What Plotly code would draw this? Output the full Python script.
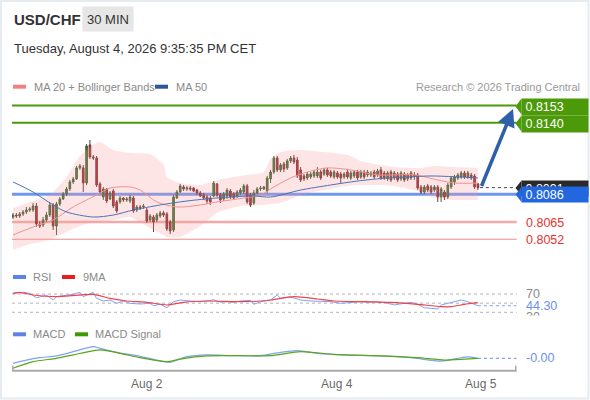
import plotly.graph_objects as go

W, H = 590, 400

# 30 min candles, one entry per bar (bar index 0..139)
OPEN = [0.80688, 0.80703, 0.80696, 0.80711, 0.80726, 0.80741, 0.80741, 0.80771, 0.80635, 0.80628, 0.80666,
        0.80703, 0.80779, 0.80620, 0.80787, 0.80824, 0.80862, 0.80900, 0.80953, 0.80976, 0.81059,
        0.81059, 0.80945, 0.81233, 0.81142,
        0.81134, 0.80938, 0.80839, 0.80900, 0.80824, 0.80885, 0.80802,
        0.80802, 0.80832, 0.80817, 0.80809, 0.80832, 0.80741, 0.80764,
        0.80764, 0.80741, 0.80666, 0.80688,
        0.80666, 0.80696, 0.80719, 0.80711, 0.80651, 0.80590, 0.80832, 0.80877, 0.80915, 0.80900,
        0.80907, 0.80907, 0.80892, 0.80870, 0.80855, 0.80839, 0.80832, 0.80847, 0.80938, 0.80855,
        0.80824, 0.80847, 0.80885, 0.80862, 0.80847, 0.80870, 0.80877, 0.80923, 0.80855, 0.80794,
        0.80870, 0.80900, 0.80900, 0.80885, 0.80976, 0.81028, 0.81134, 0.81044, 0.81089, 0.81059,
        0.81112, 0.81134, 0.81119, 0.81044, 0.80998, 0.80983, 0.80991, 0.80998, 0.80998, 0.81028,
        0.81013, 0.81044, 0.81028, 0.80991, 0.81021, 0.81013, 0.80991, 0.81028, 0.80983, 0.80998,
        0.81028, 0.80991, 0.81028, 0.81006, 0.81006, 0.81028, 0.81006, 0.81044, 0.81021, 0.80976,
        0.81028, 0.80983, 0.81013, 0.80976, 0.81013, 0.80976, 0.81021, 0.80991, 0.81006, 0.80915,
        0.80877, 0.80923, 0.80915, 0.80892, 0.80915, 0.80839, 0.80877, 0.80839, 0.80915, 0.80953,
        0.80983, 0.80991, 0.81021, 0.80991, 0.81006, 0.80998, 0.80938]
HIGH = [0.80719, 0.80719, 0.80726, 0.80741, 0.80764, 0.80764, 0.80794, 0.80794, 0.80658, 0.80688, 0.80726,
        0.80802, 0.80794, 0.80802, 0.80839, 0.80877, 0.80915, 0.80968, 0.80991, 0.81074, 0.81089,
        0.81081, 0.81240, 0.81270, 0.81157,
        0.81149, 0.80953, 0.80915, 0.80907, 0.80885, 0.80900, 0.80817,
        0.80847, 0.80839, 0.80839, 0.80855, 0.80847, 0.80779, 0.80779,
        0.80787, 0.80756, 0.80711, 0.80703,
        0.80719, 0.80734, 0.80734, 0.80726, 0.80666, 0.80855, 0.80892, 0.80938, 0.80930, 0.80923,
        0.80923, 0.80915, 0.80900, 0.80885, 0.80870, 0.80855, 0.80847, 0.80960, 0.80945, 0.80870,
        0.80877, 0.80907, 0.80900, 0.80877, 0.80892, 0.80907, 0.80938, 0.80938, 0.80870, 0.80892,
        0.80915, 0.80923, 0.80923, 0.80998, 0.81044, 0.81149, 0.81149, 0.81096, 0.81104, 0.81127,
        0.81149, 0.81157, 0.81142, 0.81066, 0.81013, 0.81028, 0.81028, 0.81044, 0.81066, 0.81044,
        0.81059, 0.81059, 0.81044, 0.81044, 0.81036, 0.81028, 0.81028, 0.81044, 0.81036, 0.81044,
        0.81044, 0.81044, 0.81044, 0.81044, 0.81036, 0.81044, 0.81051, 0.81066, 0.81036, 0.81036,
        0.81044, 0.81036, 0.81028, 0.81036, 0.81028, 0.81021, 0.81036, 0.81028, 0.81021, 0.80930,
        0.80930, 0.80938, 0.80930, 0.80930, 0.80930, 0.80915, 0.80892, 0.80945, 0.80998, 0.81006,
        0.81021, 0.81036, 0.81036, 0.81036, 0.81021, 0.81013, 0.80945]
LOW = [0.80673, 0.80681, 0.80681, 0.80696, 0.80711, 0.80726, 0.80726, 0.80613, 0.80605, 0.80613, 0.80651,
       0.80688, 0.80590, 0.80552, 0.80771, 0.80817, 0.80847, 0.80885, 0.80938, 0.80968, 0.81044,
       0.80877, 0.80930, 0.81127, 0.81119,
       0.80915, 0.80862, 0.80817, 0.80794, 0.80817, 0.80756, 0.80719,
       0.80787, 0.80802, 0.80802, 0.80794, 0.80719, 0.80726, 0.80741,
       0.80749, 0.80643, 0.80651, 0.80575,
       0.80651, 0.80681, 0.80688, 0.80583, 0.80560, 0.80575, 0.80824, 0.80870, 0.80885, 0.80885,
       0.80885, 0.80877, 0.80855, 0.80839, 0.80817, 0.80787, 0.80779, 0.80839, 0.80839, 0.80794,
       0.80809, 0.80824, 0.80824, 0.80817, 0.80832, 0.80855, 0.80862, 0.80787, 0.80764, 0.80779,
       0.80862, 0.80885, 0.80892, 0.80870, 0.80945, 0.81013, 0.81028, 0.81028, 0.81028, 0.81044,
       0.81096, 0.81089, 0.80983, 0.80953, 0.80960, 0.80968, 0.80976, 0.80983, 0.80983, 0.80968,
       0.80998, 0.80991, 0.80983, 0.80976, 0.80976, 0.80945, 0.80976, 0.80976, 0.80968, 0.80983,
       0.80968, 0.80976, 0.80976, 0.80991, 0.80991, 0.80976, 0.80991, 0.80968, 0.80968, 0.80960,
       0.80953, 0.80968, 0.80953, 0.80960, 0.80953, 0.80960, 0.80968, 0.80968, 0.80892, 0.80862,
       0.80862, 0.80877, 0.80862, 0.80877, 0.80802, 0.80802, 0.80817, 0.80824, 0.80900, 0.80930,
       0.80968, 0.80976, 0.80976, 0.80976, 0.80968, 0.80900, 0.80892]
CLOSE = [0.80703, 0.80696, 0.80711, 0.80726, 0.80741, 0.80749, 0.80771, 0.80635, 0.80620, 0.80666, 0.80703,
         0.80779, 0.80620, 0.80787, 0.80824, 0.80862, 0.80900, 0.80953, 0.80976, 0.81059, 0.81074,
         0.80945, 0.81225, 0.81142, 0.81134,
         0.80930, 0.80877, 0.80900, 0.80809, 0.80870, 0.80771, 0.80734,
         0.80832, 0.80817, 0.80824, 0.80839, 0.80734, 0.80764, 0.80756,
         0.80771, 0.80658, 0.80696, 0.80651,
         0.80703, 0.80719, 0.80703, 0.80598, 0.80583, 0.80839, 0.80877, 0.80923, 0.80900, 0.80907,
         0.80900, 0.80885, 0.80870, 0.80847, 0.80832, 0.80809, 0.80802, 0.80945, 0.80855, 0.80817,
         0.80862, 0.80892, 0.80839, 0.80832, 0.80877, 0.80892, 0.80923, 0.80802, 0.80779, 0.80870,
         0.80900, 0.80907, 0.80915, 0.80983, 0.81028, 0.81134, 0.81044, 0.81081, 0.81051, 0.81112,
         0.81134, 0.81104, 0.80998, 0.80968, 0.80976, 0.81013, 0.81013, 0.81028, 0.81028, 0.80983,
         0.81044, 0.81006, 0.80998, 0.81028, 0.80991, 0.80983, 0.81013, 0.80991, 0.81021, 0.81028,
         0.80983, 0.81028, 0.80991, 0.81028, 0.81021, 0.80991, 0.81036, 0.80983, 0.80983, 0.81021,
         0.80968, 0.81021, 0.80968, 0.81021, 0.80968, 0.81006, 0.80983, 0.81006, 0.80907, 0.80877,
         0.80915, 0.80892, 0.80877, 0.80915, 0.80839, 0.80900, 0.80839, 0.80930, 0.80983, 0.80991,
         0.81006, 0.81021, 0.80991, 0.81021, 0.80983, 0.80915, 0.80910]
BAR = list(range(len(CLOSE)))

# moving averages and bands, read at a few bars
MA50_BAR = [0, 6, 12, 16, 24, 30, 36, 44, 52, 61, 72, 77, 86, 95, 103, 112, 125, 133, 139]
MA50 = [0.80953, 0.80877, 0.80779, 0.80726, 0.80688, 0.80703, 0.80741, 0.80779, 0.80809, 0.80832,
        0.80847, 0.80839, 0.80892, 0.80930, 0.80960, 0.80983, 0.80998, 0.80991, 0.80983]
MA20_BAR = [0, 6, 12, 18, 25, 29, 35, 38, 43, 49, 56, 61, 67, 74, 78, 83, 88, 94, 101, 109, 120, 127, 132, 139]
MA20 = [0.80552, 0.80613, 0.80666, 0.80764, 0.80855, 0.80907, 0.80915, 0.80892, 0.80802, 0.80764,
        0.80779, 0.80802, 0.80824, 0.80855, 0.80915, 0.80983, 0.81028, 0.81059, 0.81044, 0.81006,
        0.81006, 0.80968, 0.80945, 0.80945]
BAND_BAR = [0, 5, 11, 16, 20, 24, 26, 30, 35, 41, 45, 46, 50, 56, 61, 68, 75, 77, 80, 86, 93, 100,
            104, 114, 122, 126, 132, 139]
BB_UP = [0.80756, 0.80802, 0.80855, 0.80991, 0.81149, 0.81233, 0.81255, 0.81195, 0.81172, 0.81164,
         0.81081, 0.80991, 0.80945, 0.80930, 0.80968, 0.80998, 0.81028, 0.81127, 0.81179, 0.81195,
         0.81179, 0.81157, 0.81112, 0.81066, 0.81059, 0.81074, 0.81066, 0.81059]
BB_LO = [0.80439, 0.80484, 0.80515, 0.80575, 0.80620, 0.80651, 0.80658, 0.80666, 0.80688, 0.80605,
         0.80552, 0.80537, 0.80537, 0.80620, 0.80719, 0.80771, 0.80779, 0.80787, 0.80794, 0.80855,
         0.80892, 0.80923, 0.80930, 0.80923, 0.80877, 0.80832, 0.80817, 0.80817]

# RSI and its 9 period average
RSI_BAR = [0, 3, 5, 7, 8, 10, 12, 13, 15, 18, 20, 21, 24, 25, 27, 29, 31, 33, 35, 38, 41, 42, 44, 46,
           48, 50, 53, 56, 58, 60, 62, 64, 66, 68, 71, 72, 74, 76, 77, 79, 80, 83, 86, 89, 92, 95, 98,
           101, 104, 106, 109, 112, 114, 117, 119, 121, 123, 125, 127, 128, 130, 132, 134, 136, 137, 139]
RSI = [71.5, 73.7, 71.5, 61.9, 63.4, 67.8, 56.9, 64.1, 66.3, 69.3, 73.7, 64.1, 73.7, 60.6, 54.7, 56.9,
       49.7, 54.7, 49.7, 48.1, 49.7, 44.4, 47.5, 40.0, 53.2, 56.9, 54.7, 53.2, 54.7, 57.5, 51.9, 53.2,
       51.9, 54.7, 56.2, 47.5, 53.2, 54.7, 56.9, 67.8, 60.6, 63.4, 56.9, 54.7, 53.2, 53.2, 49.7, 51.9,
       53.2, 51.9, 53.2, 49.7, 46.0, 49.7, 51.9, 47.5, 40.0, 38.7, 37.2, 46.0, 49.7, 51.9, 56.9, 53.2,
       49.7, 44.3]
RSI_MA_BAR = [0, 2, 6, 13, 24, 29, 34, 40, 46, 51, 58, 68, 74, 77, 84, 91, 96, 106, 113, 121, 128, 131, 135, 139]
RSI_MA = [71.5, 73.7, 67.8, 64.1, 69.3, 60.6, 54.7, 51.9, 46.0, 51.9, 54.7, 53.2, 54.7, 56.9, 64.1,
          59.1, 54.7, 53.2, 51.9, 47.5, 42.2, 42.2, 47.5, 51.0]
RSI_LEVELS = [70, 50, 30]
RSI_LAST = 44.30

# MACD
MACD_BAR = [0, 4, 8, 13, 18, 24, 26, 31, 37, 43, 47, 52, 58, 66, 74, 80, 85, 91, 99, 108, 119, 128, 133, 136, 139]
MACD = [-0.00025, -0.00009, 0.00003, 0.00012, 0.00033, 0.00058, 0.0005, 0.0003, 0.00013, -0.00009,
        -0.0002, 0.00008, 0.00017, 0.00013, 0.00013, 0.0003, 0.00038, 0.00025, 0.00017, 0.00013,
        0.00003, -0.00014, 0.0, 0.00007, 0.0]
SIGNAL_BAR = [0, 6, 13, 18, 26, 32, 38, 46, 50, 58, 68, 77, 86, 96, 110, 121, 129, 135, 139]
SIGNAL = [-0.0005, -0.00017, 0.0, 0.00017, 0.00042, 0.00025, 0.00003, -0.00017, -0.00004, 0.00012,
          0.00013, 0.00013, 0.00033, 0.0002, 0.00012, 0.00003, -0.00009, -0.00004, 0.0]

# key levels
RESISTANCE = [0.8153, 0.8140]
PIVOT = 0.8086
SUPPORT = [0.8065, 0.8052]
LAST = 0.8091
TARGET = 0.81505

TICK_BAR = [40, 97, 140]
TICK_TEXT = ["Aug 2", "Aug 4", "Aug 5"]

FONT = "Arial, Liberation Sans, sans-serif"
GREEN = "#4c9a0a"
BLUE_LINE = "#7097f0"
RSI_BLUE = "#7fa2f2"


def px(x):
    return x / W


def py(y):
    return 1 - y / H


X_DOM = [px(12), px(516.7)]
X_RANGE = [-0.3, 150.6]

fig = go.Figure()

# bollinger band fill
fig.add_trace(go.Scatter(x=BAND_BAR, y=BB_UP, mode="lines", line=dict(width=0, shape="spline", smoothing=0.6),
                         hoverinfo="skip", showlegend=False))
fig.add_trace(go.Scatter(x=BAND_BAR, y=BB_LO, mode="lines", line=dict(width=0, shape="spline", smoothing=0.6),
                         fill="tonexty", fillcolor="rgba(248,150,150,0.25)", hoverinfo="skip", showlegend=False))
fig.add_trace(go.Scatter(x=MA20_BAR, y=MA20, mode="lines",
                         line=dict(color="#f29090", width=1, shape="spline", smoothing=0.8),
                         hoverinfo="skip", showlegend=False))
fig.add_trace(go.Scatter(x=MA50_BAR, y=MA50, mode="lines",
                         line=dict(color="#4a72b8", width=1, shape="spline", smoothing=0.8),
                         hoverinfo="skip", showlegend=False))

fig.add_trace(go.Candlestick(
    x=BAR, open=OPEN, high=HIGH, low=LOW, close=CLOSE,
    increasing=dict(fillcolor="#2f8a1c", line=dict(color="#3d5a35", width=1)),
    decreasing=dict(fillcolor="#e4161b", line=dict(color="#6a3030", width=1)),
    whiskerwidth=0, hoverinfo="skip", showlegend=False,
))

# RSI panel
fig.add_trace(go.Scatter(x=RSI_BAR, y=RSI, mode="lines", xaxis="x2", yaxis="y2",
                         line=dict(color=RSI_BLUE, width=1), hoverinfo="skip", showlegend=False))
fig.add_trace(go.Scatter(x=RSI_MA_BAR, y=RSI_MA, mode="lines", xaxis="x2", yaxis="y2",
                         line=dict(color="#f0434a", width=1.2, shape="spline", smoothing=0.5),
                         hoverinfo="skip", showlegend=False))

# MACD panel
fig.add_trace(go.Scatter(x=MACD_BAR, y=MACD, mode="lines", xaxis="x3", yaxis="y3",
                         line=dict(color=RSI_BLUE, width=1.2, shape="spline", smoothing=0.6),
                         hoverinfo="skip", showlegend=False))
fig.add_trace(go.Scatter(x=SIGNAL_BAR, y=SIGNAL, mode="lines", xaxis="x3", yaxis="y3",
                         line=dict(color="#5aa51a", width=1.2, shape="spline", smoothing=0.6),
                         hoverinfo="skip", showlegend=False))

shapes = []
# level lines
for lv in RESISTANCE:
    shapes.append(dict(type="line", xref="x domain", yref="y", x0=0, x1=1, y0=lv, y1=lv,
                       line=dict(color=GREEN, width=2), layer="below"))
shapes.append(dict(type="line", xref="x domain", yref="y", x0=0, x1=1, y0=PIVOT, y1=PIVOT,
                   line=dict(color=BLUE_LINE, width=3), layer="below"))
shapes.append(dict(type="line", xref="x domain", yref="y", x0=0, x1=1, y0=SUPPORT[0], y1=SUPPORT[0],
                   line=dict(color="#f6a8a8", width=2.5), layer="below"))
shapes.append(dict(type="line", xref="x domain", yref="y", x0=0, x1=1, y0=SUPPORT[1], y1=SUPPORT[1],
                   line=dict(color="#f08a8a", width=1.2), layer="below"))
shapes.append(dict(type="line", xref="x", yref="y", x0=BAR[-1] + 0.6, x1=X_RANGE[1], y0=LAST, y1=LAST,
                   line=dict(color="#444444", width=1, dash="dot")))

# rsi guide lines
for lv in RSI_LEVELS:
    shapes.append(dict(type="line", xref="x2 domain", yref="y2", x0=0, x1=1, y0=lv, y1=lv,
                       line=dict(color="#b4b4b4", width=1, dash="dot"), layer="below"))
shapes.append(dict(type="line", xref="x2", yref="y2", x0=BAR[-1], x1=X_RANGE[1], y0=RSI_LAST, y1=RSI_LAST,
                   line=dict(color=RSI_BLUE, width=1.2, dash="dot")))
shapes.append(dict(type="line", xref="x3", yref="y3", x0=BAR[-1], x1=X_RANGE[1], y0=MACD[-1], y1=MACD[-1],
                   line=dict(color=RSI_BLUE, width=1.2, dash="dot")))

# bottom time axis
shapes.append(dict(type="line", xref="paper", yref="paper", x0=px(12), x1=px(516.5), y0=py(370.7), y1=py(370.7),
                   line=dict(color="#aaaaaa", width=2)))
for xe in (12.8, 515.8):
    shapes.append(dict(type="line", xref="paper", yref="paper", x0=px(xe), x1=px(xe), y0=py(370.7), y1=py(365.5),
                       line=dict(color="#aaaaaa", width=1.5)))

# outer frame
shapes.append(dict(type="rect", xref="paper", yref="paper", x0=px(1), x1=px(588.5), y0=py(398.5), y1=py(1),
                   line=dict(color="#e6ebef", width=2)))

# legend swatches
for x0, y0, col in [(13, 86.7, "#f28080"), (155, 86.7, "#2f559a"),
                    (13, 277, "#5b82e6"), (62, 277, "#ee1c1c"),
                    (13, 334.3, "#5b82e6"), (75, 334.3, "#3d9a00")]:
    shapes.append(dict(type="rect", xref="paper", yref="paper", x0=px(x0), x1=px(x0 + 13),
                       y0=py(y0 + 2), y1=py(y0 - 2), line=dict(width=0), fillcolor=col))


# price tags on the right: arrow tip + box
def tag_tip(yc, h, col):
    path = "M {:.5f},{:.5f} L {:.5f},{:.5f} L {:.5f},{:.5f} Z".format(
        px(515.5), py(yc), px(521.5), py(yc - h / 2), px(521.5), py(yc + h / 2))
    return dict(type="path", xref="paper", yref="paper", path=path, fillcolor=col, line=dict(width=0))


shapes.append(tag_tip(106.5, 16, GREEN))
shapes.append(tag_tip(123.5, 16, GREEN))
shapes.append(tag_tip(188, 15, "#2a2a2a"))
shapes.append(tag_tip(194.5, 15, "#2367e0"))

ann = []


def text(x, y, s, size, color, anchor="left", bold=False):
    if bold:
        s = "<b>" + s + "</b>"
    ann.append(dict(xref="paper", yref="paper", x=px(x), y=py(y), text=s, showarrow=False,
                    xanchor=anchor, yanchor="middle", font=dict(family=FONT, size=size, color=color)))


def tag(yc, h, s, col):
    ann.append(dict(xref="paper", yref="paper", x=px(521), y=py(yc), text="\u00a0" + s, showarrow=False,
                    xanchor="left", yanchor="middle", align="left", width=66, height=h, borderpad=0,
                    bgcolor=col, font=dict(family=FONT, size=12.5, color="white")))


# header
text(12, 19.5, "USD/CHF", 15, "#333333", bold=True)
ann.append(dict(xref="paper", yref="paper", x=px(82), y=py(19), text="30 MIN", showarrow=False,
                xanchor="left", yanchor="middle", width=50, height=24, borderpad=0, bgcolor="#e6e6e6",
                font=dict(family=FONT, size=13, color="#333333")))
text(12, 48, "Tuesday, August 4, 2026 9:35:35 PM CET", 13, "#333333")
text(32, 86.5, "MA 20 + Bollinger Bands", 11, "#8a8a8a")
text(174, 86.5, "MA 50", 11, "#8a8a8a")
text(582, 86.5, "Research \u00a9 2026 Trading Central", 11, "#9a9a9a", anchor="right")

# level tags
tag(106.5, 16, "{:.4f}".format(RESISTANCE[0]), GREEN)
tag(123.5, 16, "{:.4f}".format(RESISTANCE[1]), GREEN)
tag(188, 15, "{:.4f}".format(LAST), "#2a2a2a")
tag(194.5, 15, "{:.4f}".format(PIVOT), "#2367e0")
text(524, 222.7, "{:.4f}".format(SUPPORT[0]), 12.5, "#e8322e")
text(524, 239.5, "{:.4f}".format(SUPPORT[1]), 12.5, "#e8322e")

# forecast arrow
ann.append(dict(xref="x", yref="y", axref="x", ayref="y", x=149.5, y=TARGET, ax=139.9, ay=LAST + 0.00001,
                text="", showarrow=True, arrowhead=2, arrowsize=1, arrowwidth=3.5, arrowcolor="#2f5fa8",
                standoff=0, startstandoff=0))

# indicator legends
text(31, 277, "RSI", 11, "#8a8a8a")
text(81, 277, "9MA", 11, "#8a8a8a")
text(31, 334.3, "MACD", 11, "#8a8a8a")
text(93, 334.3, "MACD Signal", 11, "#8a8a8a")

# rsi labels
text(524, 316.5, "30", 12.5, "#8a8a8a")
ann.append(dict(xref="paper", yref="paper", x=px(521), y=py(315.2), text="\u00a0", showarrow=False,
                xanchor="left", yanchor="top", width=30, height=8, borderpad=0, bgcolor="white",
                font=dict(family=FONT, size=5, color="white")))
text(524, 294.3, "70", 12.5, "#8a8a8a")
text(524, 306, "{:.2f}".format(RSI_LAST), 12.5, "#6b8ff0")
text(524, 358.3, "-0.00", 12.5, "#6b8ff0")

# time ticks
for tb, tt in zip(TICK_BAR, TICK_TEXT):
    ann.append(dict(xref="x3", yref="paper", x=tb, y=py(384), text=tt, showarrow=False,
                    xanchor="center", yanchor="middle", font=dict(family=FONT, size=12, color="#6a6a6a")))

axis_off = dict(visible=False, fixedrange=True)
fig.update_layout(
    width=W, height=H,
    margin=dict(l=0, r=0, t=0, b=0),
    paper_bgcolor="white", plot_bgcolor="white",
    showlegend=False,
    xaxis=dict(domain=X_DOM, range=X_RANGE, rangeslider=dict(visible=False), anchor="y", **axis_off),
    yaxis=dict(domain=[py(255), py(95)], range=[0.80401, 0.81610], anchor="x", **axis_off),
    xaxis2=dict(domain=X_DOM, range=X_RANGE, anchor="y2", **axis_off),
    yaxis2=dict(domain=[py(322), py(286)], range=[8.79, 87.49], anchor="x2", **axis_off),
    xaxis3=dict(domain=X_DOM, range=X_RANGE, anchor="y3", **axis_off),
    yaxis3=dict(domain=[py(370), py(340)], range=[-0.000585, 0.000915], anchor="x3", **axis_off),
    shapes=shapes,
    annotations=ann,
)

# the page body has a default 8px margin; drop it so the figure fills the window
fig.write_html("out.html", config={"displayModeBar": False},
               post_script="document.body.style.margin='0';")
